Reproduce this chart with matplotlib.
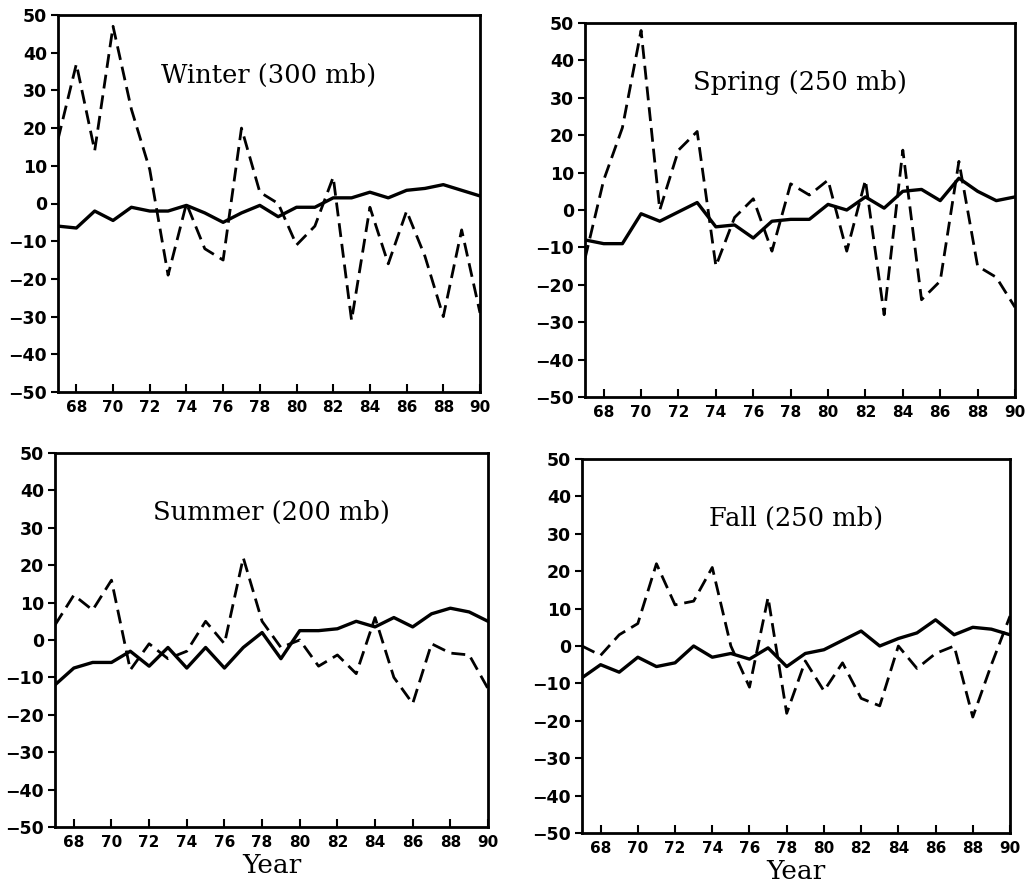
import matplotlib
matplotlib.use("Agg")
import matplotlib.pyplot as plt

years = list(range(67, 91))

winter_dash = [17, 37, 14, 47, 25, 9, -19, 0, -12, -15, 20, 3, 0, -11, -6, 7, -31, -1, -16, -2, -14, -30, -7, -29]
winter_solid = [-6, -6.5, -2, -4.5, -1, -2, -2, -0.5, -2.5, -5, -2.5, -0.5, -3.5, -1, -1, 1.5, 1.5, 3, 1.5, 3.5, 4, 5, 3.5, 2]

spring_dash = [-13, 8, 22, 48, 0, 16, 21, -15, -2, 3, -11, 7, 4, 8, -11, 8, -28, 16, -24, -19, 13, -15, -18, -26]
spring_solid = [-8, -9, -9, -1, -3, -0.5, 2, -4.5, -4, -7.5, -3, -2.5, -2.5, 1.5, 0, 3.5, 0.5, 5, 5.5, 2.5, 8.5, 5, 2.5, 3.5]

summer_dash = [4, 12, 8, 16, -8, -1, -5, -3, 5, -1, 22, 5, -2, 0, -7, -4, -9, 6, -10, -17, -1, -3.5, -4, -13]
summer_solid = [-12, -7.5, -6, -6, -3, -7, -2, -7.5, -2, -7.5, -2, 2, -5, 2.5, 2.5, 3, 5, 3.5, 6, 3.5, 7, 8.5, 7.5, 5]

fall_dash = [0, -2.5, 3, 6, 22, 11, 12, 21, 0, -11, 13, -18, -4, -12, -4.5, -14, -16, 0, -6, -2, 0, -19, -5, 8]
fall_solid = [-8.5, -5, -7, -3, -5.5, -4.5, 0, -3, -2, -3.5, -0.5, -5.5, -2, -1, 1.5, 4, 0, 2, 3.5, 7, 3, 5, 4.5, 3]

titles = ["Winter (300 mb)", "Spring (250 mb)", "Summer (200 mb)", "Fall (250 mb)"]
xticks = list(range(68, 91, 2))
yticks = list(range(-50, 51, 10))

W, H = 1026, 884
fig = plt.figure(figsize=(W / 100, H / 100), dpi=100)

# pixel boxes: left, top, right, bottom
boxes = [(58, 15, 480, 392), (585, 23, 1015, 397), (55, 453, 488, 827), (582, 459, 1010, 833)]
data = [(winter_dash, winter_solid), (spring_dash, spring_solid),
        (summer_dash, summer_solid), (fall_dash, fall_solid)]

for i, (box, (dash, solid), title) in enumerate(zip(boxes, data, titles)):
    l, t, r, b = box
    ax = fig.add_axes([l / W, 1 - b / H, (r - l) / W, (b - t) / H])
    ax.plot(years, solid, color="black", lw=2.4)
    ax.plot(years, dash, color="black", lw=2.0, ls=(0, (5, 2.5)))
    ax.set_xlim(67, 90)
    ax.set_ylim(-50, 50)
    ax.set_xticks(xticks)
    ax.set_yticks(yticks)
    ax.set_xticklabels([str(x) for x in xticks], fontweight="bold", fontsize=11)
    ax.set_yticklabels([str(y).replace("-", "\u2212") for y in yticks], fontweight="bold", fontsize=12.5)
    ax.tick_params(axis="x", direction="in", length=6, width=1.5, pad=6)
    ax.tick_params(axis="y", direction="out", length=5, width=1.5, pad=3)
    for s in ax.spines.values():
        s.set_linewidth(2)
    ax.text(0.5, 0.84, title, transform=ax.transAxes, ha="center", va="center",
            family="DejaVu Serif", fontsize=18.5)
    if i >= 2:
        ax.set_xlabel("Year", family="DejaVu Serif", fontsize=19, labelpad=2)

fig.savefig("out.png", dpi=100)
